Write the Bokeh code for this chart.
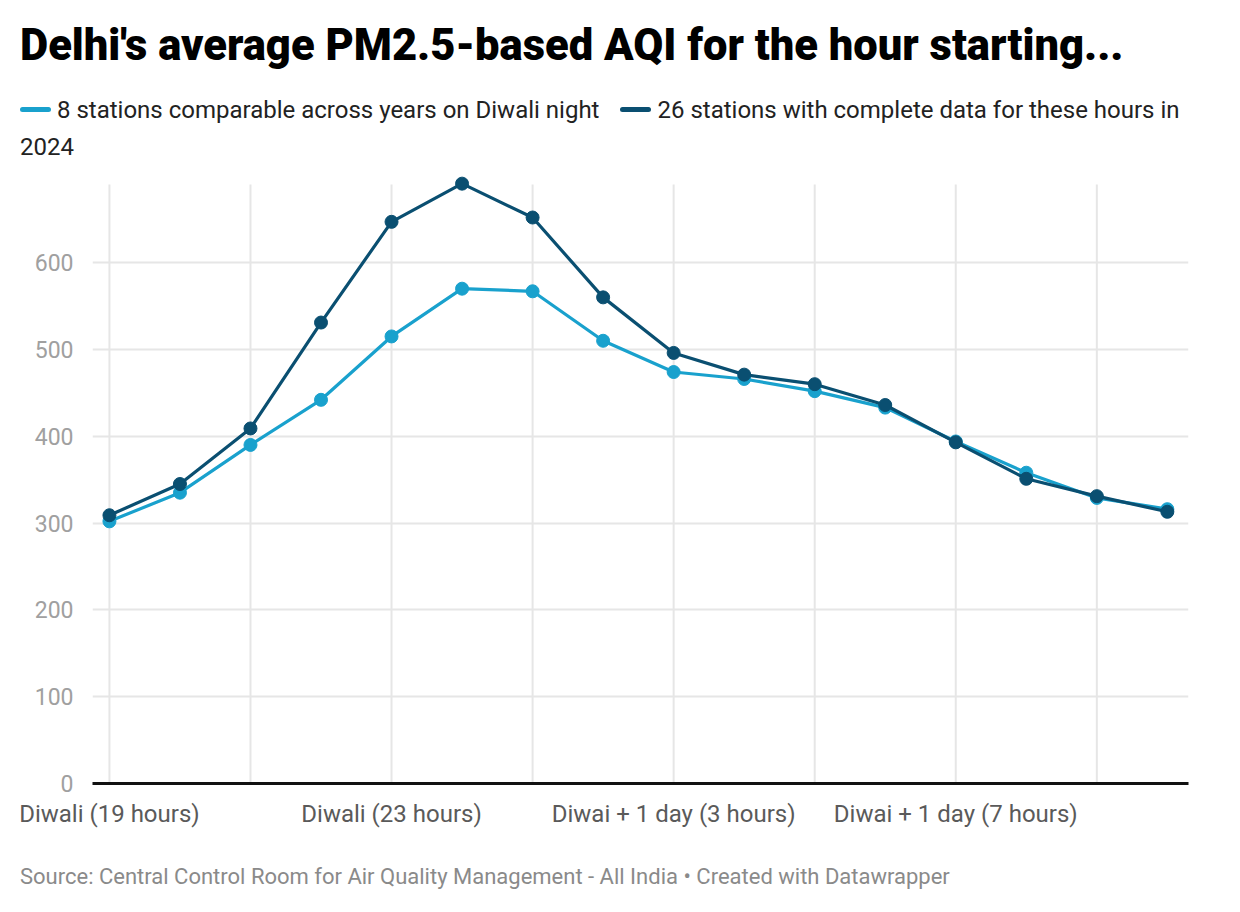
from bokeh.plotting import figure
from bokeh.layouts import column
from bokeh.models import Range1d, FixedTicker, ColumnDataSource, Div
from bokeh.embed import file_html
from bokeh.resources import INLINE

# Hour slots, Diwali evening into the following morning
hour_labels = [
    "Diwali (19 hours)", "Diwali (20 hours)", "Diwali (21 hours)", "Diwali (22 hours)",
    "Diwali (23 hours)", "Diwai + 1 day (0 hours)", "Diwai + 1 day (1 hours)",
    "Diwai + 1 day (2 hours)", "Diwai + 1 day (3 hours)", "Diwai + 1 day (4 hours)",
    "Diwai + 1 day (5 hours)", "Diwai + 1 day (6 hours)", "Diwai + 1 day (7 hours)",
    "Diwai + 1 day (8 hours)", "Diwai + 1 day (9 hours)", "Diwai + 1 day (10 hours)",
]
labelled_hours = [0, 4, 8, 12]
grid_hours = [0, 2, 4, 6, 8, 10, 12, 14]

series_names = [
    "8 stations comparable across years on Diwali night",
    "26 stations with complete data for these hours in 2024",
]
aqi_8_stations = [302, 335, 390, 442, 515, 570, 567, 510, 474, 466, 452, 433, 394, 358, 329, 316]
aqi_26_stations = [309, 345, 409, 531, 647, 691, 652, 560, 496, 471, 460, 436, 393, 351, 331, 313]

y_ticks = [0, 100, 200, 300, 400, 500, 600]
grid_top = 690

title_text = "Delhi's average PM2.5-based AQI for the hour starting..."
source_text = "Source: Central Control Room for Air Quality Management - All India \u2022 Created with Datawrapper"

LIGHT = "#19a1cd"
DARK = "#0a4f71"
FONT = "Roboto"

W = 1240
HEADER_H = 165
FOOTER_H = 74
FIG_H = 912 - HEADER_H - FOOTER_H

# ---- header: title and legend ----
def swatch(color):
    return (f'<span style="display:inline-block;width:31px;height:5px;border-radius:3px;'
            f'background:{color};vertical-align:middle;margin:0 6px 4px 0"></span>')

# the second legend entry breaks before its last word
name2_head, name2_tail = series_names[1].rsplit(" ", 1)

header_html = f"""
<div style="font-family:{FONT};padding-left:20px;width:1200px">
  <div style="font-weight:900;font-size:43.5px;line-height:48px;margin-top:22px;color:#000;white-space:nowrap">{title_text}</div>
  <div style="font-size:24px;line-height:37px;margin-top:22px;color:#222;white-space:nowrap">
    {swatch(LIGHT)}<span style="margin-right:21px">{series_names[0]}</span>{swatch(DARK)}<span>{name2_head}</span><br><span>{name2_tail}</span>
  </div>
</div>
"""
header = Div(text=header_html, width=W, height=HEADER_H, margin=0)

# ---- chart ----
p = figure(
    width=W, height=FIG_H, output_backend="svg", toolbar_location=None,
    x_range=Range1d(-0.24, 15.3), y_range=Range1d(0, 705),
    min_border_left=92, min_border_right=52, min_border_top=171 - HEADER_H,
    min_border_bottom=FIG_H - (783 - HEADER_H),
    background_fill_color="white", border_fill_color="white", margin=0,
)
p.outline_line_color = None

# vertical guides every two hours, stopping just above the data
p.segment(x0=grid_hours, y0=[0] * len(grid_hours), x1=grid_hours, y1=[grid_top] * len(grid_hours),
          line_color="#e6e6e6", line_width=2, level="underlay")

x = list(range(len(hour_labels)))
src = ColumnDataSource(dict(x=x, a=aqi_8_stations, b=aqi_26_stations))

p.line("x", "a", source=src, line_color=LIGHT, line_width=3.2)
p.scatter("x", "a", source=src, size=13, fill_color=LIGHT, line_color=LIGHT)
p.line("x", "b", source=src, line_color=DARK, line_width=3.2)
p.scatter("x", "b", source=src, size=13, fill_color=DARK, line_color=DARK)

p.xaxis.ticker = FixedTicker(ticks=grid_hours)
p.xaxis.major_label_overrides = {
    i: (hour_labels[i] if i in labelled_hours else "") for i in grid_hours
}
p.xaxis.axis_line_color = "#111111"
p.xaxis.axis_line_width = 3
p.xaxis.major_tick_line_color = None
p.xaxis.minor_tick_line_color = None
p.xaxis.major_label_text_font = FONT
p.xaxis.major_label_text_font_size = "24px"
p.xaxis.major_label_text_color = "#5a5a5a"
p.xaxis.major_label_standoff = 10

p.yaxis.ticker = FixedTicker(ticks=y_ticks)
p.yaxis.axis_line_color = None
p.yaxis.major_tick_line_color = None
p.yaxis.minor_tick_line_color = None
p.yaxis.major_label_text_font = FONT
p.yaxis.major_label_text_font_size = "23px"
p.yaxis.major_label_text_color = "#a0a0a0"
p.yaxis.major_label_standoff = 13

p.xgrid.grid_line_color = None
p.ygrid.grid_line_color = "#e6e6e6"
p.ygrid.grid_line_width = 2

# ---- footer ----
footer_html = (f'<div style="font-family:{FONT};font-size:22px;line-height:26px;color:#8a8a8a;'
               f'padding-left:20px;margin-top:26px;white-space:nowrap">{source_text}</div>')
footer = Div(text=footer_html, width=W, height=FOOTER_H, margin=0)

page = column(header, p, footer, spacing=0, margin=0)
open("out.html", "w").write(file_html(page, INLINE))
